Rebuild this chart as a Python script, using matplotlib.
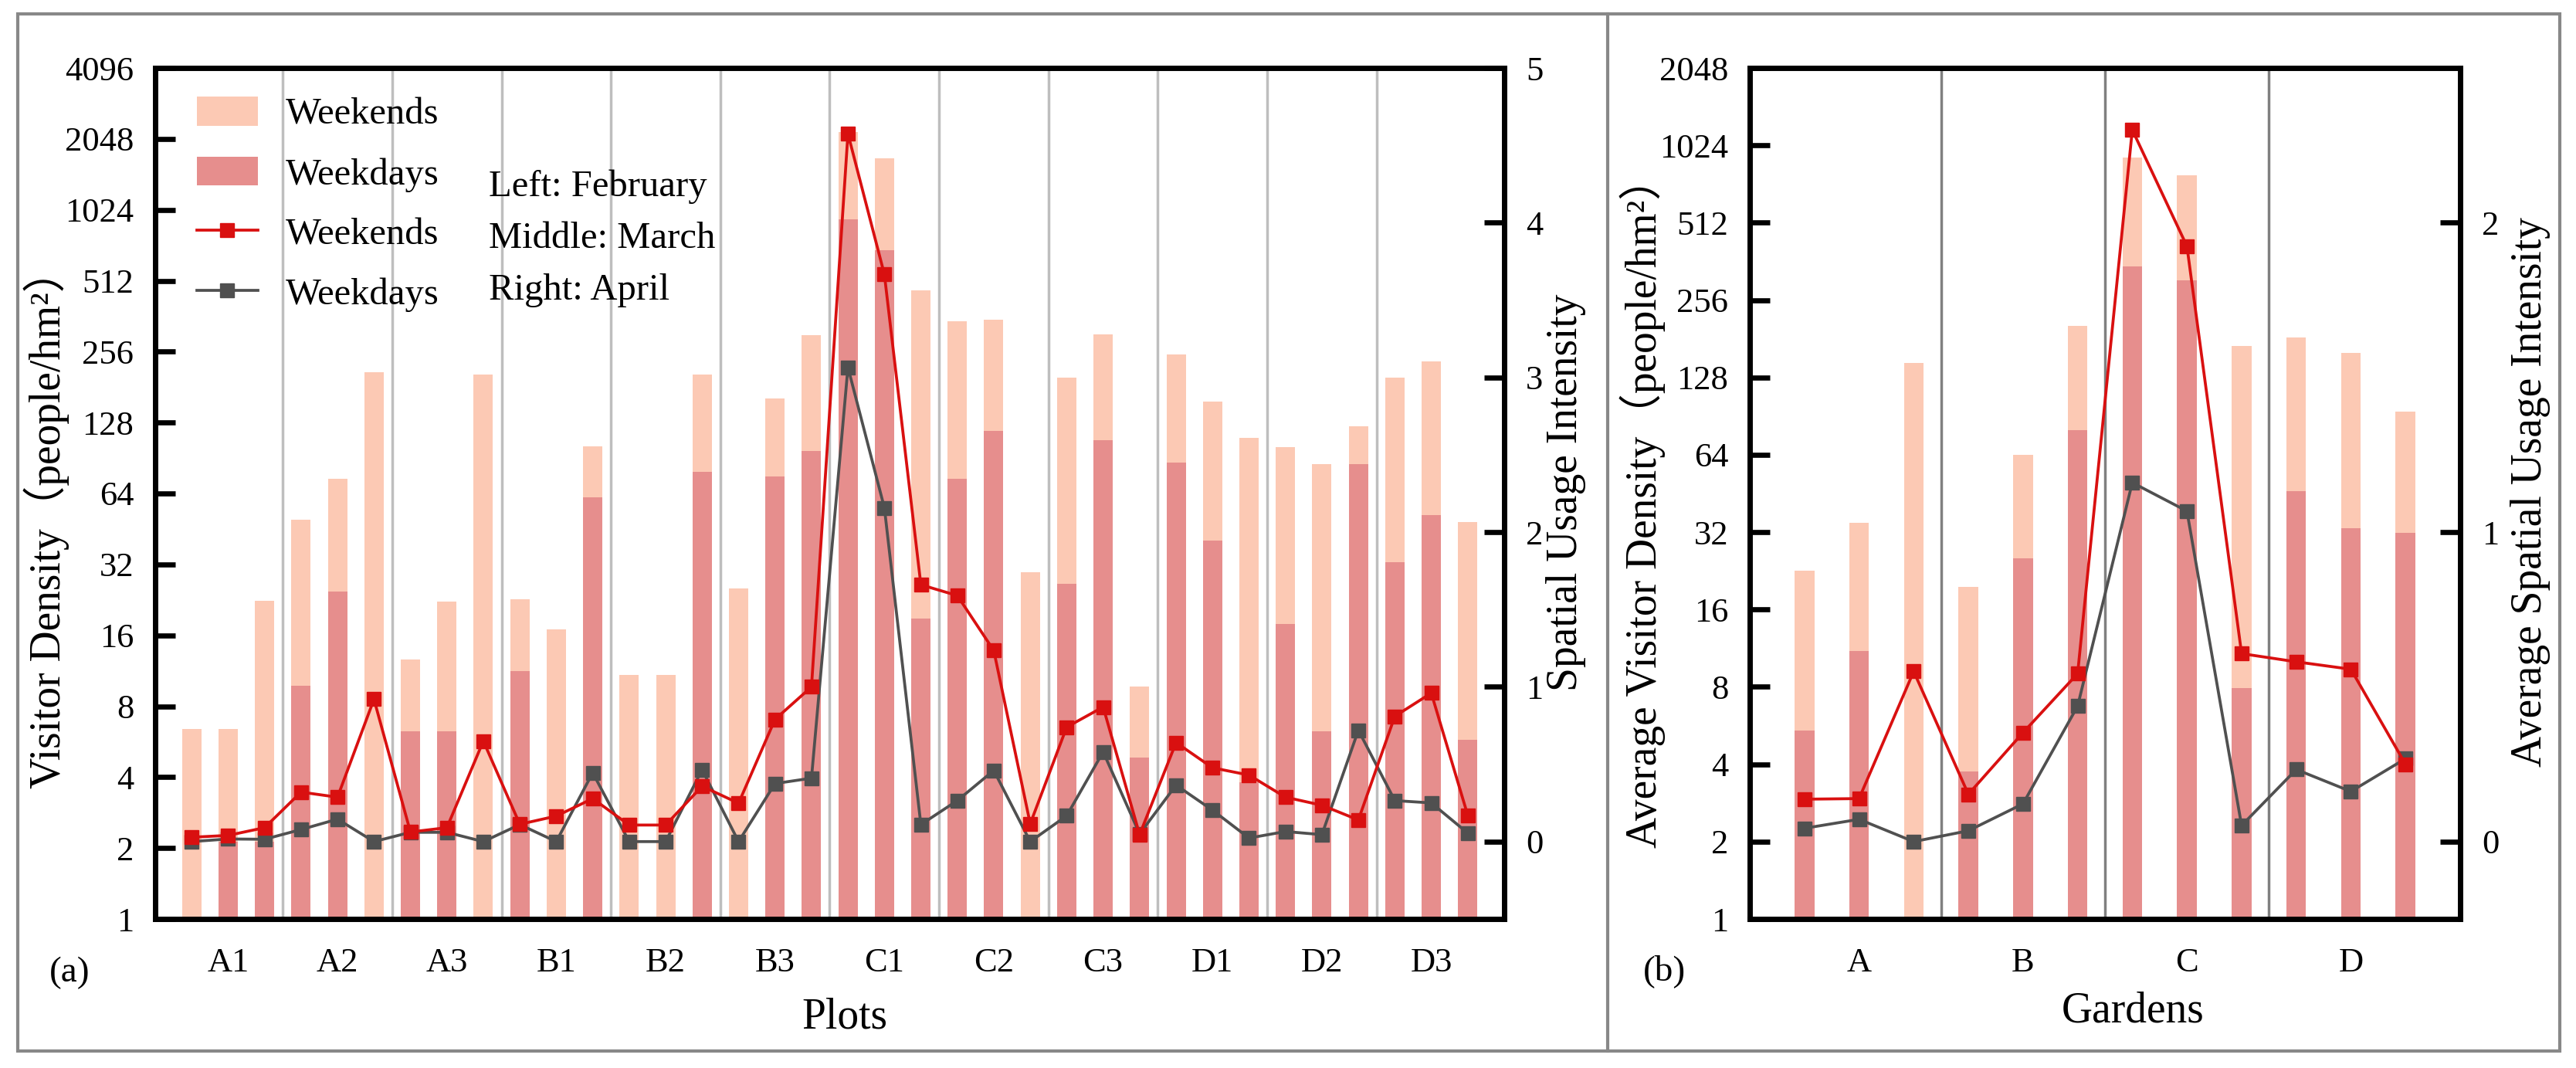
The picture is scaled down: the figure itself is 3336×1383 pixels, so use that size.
import numpy as np
import matplotlib
matplotlib.use('Agg')
import matplotlib.pyplot as plt
from matplotlib.patches import Patch, Rectangle
from matplotlib.lines import Line2D
from matplotlib.ticker import FixedLocator, NullLocator, FuncFormatter

plt.rcParams['font.family'] = ['Liberation Serif', 'Noto Sans CJK SC', 'DejaVu Sans']

# ---------------- data: panel (a) ----------------
plots = ['A1', 'A2', 'A3', 'B1', 'B2', 'B3', 'C1', 'C2', 'C3', 'D1', 'D2', 'D3']
# three bars per plot: February, March, April
density_weekend_a = [6.4, 6.4, 22.4, 49.5, 74, 210, 12.6, 22.2, 204, 22.7, 17.0, 101.6,
                     10.9, 10.9, 205, 25.3, 162, 300, 2195, 1698, 467, 345, 350, 29.7,
                     199, 302, 9.7, 249, 157, 110, 101, 85.4, 123.6, 198, 233, 48.3]
density_weekday_a = [None, 2.13, 2.13, 9.8, 24.6, None, 6.28, 6.28, None, 11.3, None, 61.8,
                     None, None, 78.8, None, 75.7, 97, 935, 689, 18.9, 73.6, 118, None,
                     26.5, 108, 4.85, 86.8, 40.5, 3.8, 17.9, 6.27, 85.4, 32.7, 52, 5.77]
intensity_weekend_a = [0.028, 0.04, 0.09, 0.32, 0.287, 0.92, 0.062, 0.09, 0.65, 0.112, 0.165, 0.278,
                       0.107, 0.107, 0.358, 0.248, 0.79, 1.00, 4.575, 3.665, 1.66, 1.59, 1.235, 0.115,
                       0.74, 0.87, 0.045, 0.64, 0.477, 0.43, 0.287, 0.235, 0.14, 0.81, 0.96, 0.17]
intensity_weekday_a = [0.0, 0.017, 0.015, 0.078, 0.145, 0.0, 0.06, 0.06, 0.0, 0.11, 0.0, 0.445,
                       0.0, 0.0, 0.465, 0.0, 0.375, 0.41, 3.065, 2.157, 0.11, 0.265, 0.46, 0.0,
                       0.167, 0.58, 0.05, 0.365, 0.203, 0.023, 0.065, 0.045, 0.72, 0.265, 0.25, 0.055]

# ---------------- data: panel (b) ----------------
gardens = ['A', 'B', 'C', 'D']
density_weekend_b = [22.6, 34.8, 146, 19.6, 64, 203, 917, 781, 170, 183, 159.7, 94.4]
density_weekday_b = [5.4, 11.0, None, 3.76, 25.3, 79.8, 345, 306, 7.93, 46.2, 33.1, 31.8]
intensity_weekend_b = [0.137, 0.139, 0.55, 0.153, 0.352, 0.543, 2.30, 1.924, 0.6075, 0.581, 0.557, 0.25]
intensity_weekday_b = [0.043, 0.072, 0.0, 0.035, 0.122, 0.438, 1.16, 1.068, 0.052, 0.233, 0.162, 0.268]

# ---------------- style ----------------
C_LIGHT = '#FCC9B4'
C_DARK = '#E68E8D'
C_RED = '#D91010'
C_GRAY = '#505050'
FRAME = '#888888'

W, H = 3336, 1383
fig = plt.figure(figsize=(W / 100, H / 100), dpi=100)


def px_axes(l, r, t, b):
    return fig.add_axes([l / W, (H - b) / H, (r - l) / W, (b - t) / H])


SPINE_W = 4.8
TICK_FS = 32
LABEL_FS = 40
LW = 2.7
MS = 13


def draw_panel(ax, labels, wk_end, wk_day, int_end, int_day, bar_w, sep_color,
               ytop_exp, r_lim, r_ticks):
    n = len(wk_end)
    x = np.arange(n)
    ax.set_yscale('log', base=2)
    ax.set_ylim(1, 2 ** ytop_exp)
    ax.set_xlim(-1, n)
    # separators between groups
    for s in np.arange(2.5, n - 1, 3):
        ax.axvline(s, color=sep_color, lw=2.5, zorder=0.5)
    we = np.array(wk_end, dtype=float)
    ax.bar(x, we - 1, bottom=1, width=bar_w, color=C_LIGHT, linewidth=0, zorder=1)
    idx = [i for i, v in enumerate(wk_day) if v is not None]
    wd = np.array([wk_day[i] for i in idx], dtype=float)
    ax.bar(np.array(idx), wd - 1, bottom=1, width=bar_w, color=C_DARK, linewidth=0, zorder=1.1)

    ax.yaxis.set_major_locator(FixedLocator([2 ** k for k in range(ytop_exp + 1)]))
    ax.yaxis.set_minor_locator(NullLocator())
    ax.yaxis.set_major_formatter(FuncFormatter(lambda v, p: f'{int(round(v))}'))
    ax.tick_params(axis='y', which='major', direction='in', length=19, width=4.8,
                   pad=20, labelsize=TICK_FS)
    ax.set_xticks(np.arange(1, n, 3))
    ax.set_xticklabels(labels)
    ax.tick_params(axis='x', length=0, pad=27, labelsize=TICK_FS)
    for sp in ax.spines.values():
        sp.set_linewidth(SPINE_W)

    ax2 = ax.twinx()
    ax2.set_ylim(*r_lim)
    ax2.set_yticks(r_ticks)
    ax2.set_yticklabels([str(t) for t in r_ticks])
    ax2.tick_params(axis='y', direction='in', length=19, width=4.8, pad=20, labelsize=TICK_FS)
    for sp in ax2.spines.values():
        sp.set_linewidth(SPINE_W)
    ax2.plot(x, int_day, color=C_GRAY, lw=LW, marker='s', ms=MS, zorder=3)
    ax2.plot(x, int_end, color=C_RED, lw=LW, marker='s', ms=MS, zorder=4)
    return ax2


# ---------------- panel (a) ----------------
axa = px_axes(201, 1948, 88, 1190)
axa2 = draw_panel(axa, plots, density_weekend_a, density_weekday_a,
                  intensity_weekend_a, intensity_weekday_a, 0.53, '#BEBEBE',
                  12, (-0.5, 5), [0, 1, 2, 3, 4, 5])
axa.set_xlabel('Plots', fontsize=LABEL_FS, va='center')
axa.xaxis.set_label_coords(0.511, -0.116)
axa.set_ylabel('Visitor Density（people/hm²）', fontsize=LABEL_FS, va='center')
axa.yaxis.set_label_coords(-0.0807, 0.47)
axa2.set_ylabel('Spatial Usage Intensity', fontsize=LABEL_FS, va='center')
axa2.yaxis.set_label_coords(1.0458, 0.501)
axa.text(-0.0635, -0.0635, '(a)', transform=axa.transAxes, fontsize=34,
         ha='center', va='center')

handles = [Patch(color=C_LIGHT, linewidth=0), Patch(color=C_DARK, linewidth=0),
           Line2D([], [], color=C_RED, lw=LW, marker='s', ms=MS),
           Line2D([], [], color=C_GRAY, lw=LW, marker='s', ms=MS)]
leg_labels = ['Weekends', 'Weekdays', 'Weekends', 'Weekdays']
axa2.legend(handles, leg_labels, loc='upper left', bbox_to_anchor=(0.0309, 0.966),
            frameon=False, fontsize=35, handlelength=1.62, handleheight=0.8,
            handletextpad=0.75, labelspacing=0.66, borderpad=0, borderaxespad=0)
for txt, yb in [('Left: February', 0.8494), ('Middle: March', 0.789), ('Right: April', 0.728)]:
    axa2.text(0.2473, yb, txt, transform=axa2.transAxes, fontsize=35, ha='left', va='baseline')

# ---------------- panel (b) ----------------
axb = px_axes(2266, 3186, 88, 1190)
axb2 = draw_panel(axb, gardens, density_weekend_b, density_weekday_b,
                  intensity_weekend_b, intensity_weekday_b, 0.36, '#808080',
                  11, (-0.25, 2.5), [0, 1, 2])
axb.set_xlabel('Gardens', fontsize=LABEL_FS, va='center')
axb.xaxis.set_label_coords(0.539, -0.108)
axb.set_ylabel('Average Visitor Density（people/hm²）', fontsize=LABEL_FS, va='center')
axb.yaxis.set_label_coords(-0.151, 0.489)
axb2.set_ylabel('Average Spatial Usage Intensity', fontsize=LABEL_FS, va='center')
axb2.yaxis.set_label_coords(1.099, 0.502)
axb.text(-0.1196, -0.0617, '(b)', transform=axb.transAxes, fontsize=34,
         ha='center', va='center')

# ---------------- outer frame & divider ----------------
fig.patches.append(Rectangle((23 / W, (H - 1361) / H), (3315 - 23) / W, (1361 - 18) / H,
                             transform=fig.transFigure, fill=False, edgecolor=FRAME, lw=3))
fig.lines.append(Line2D([2082 / W, 2082 / W], [(H - 1361) / H, (H - 18) / H],
                        transform=fig.transFigure, color=FRAME, lw=3))

fig.savefig('out.png', dpi=100)
